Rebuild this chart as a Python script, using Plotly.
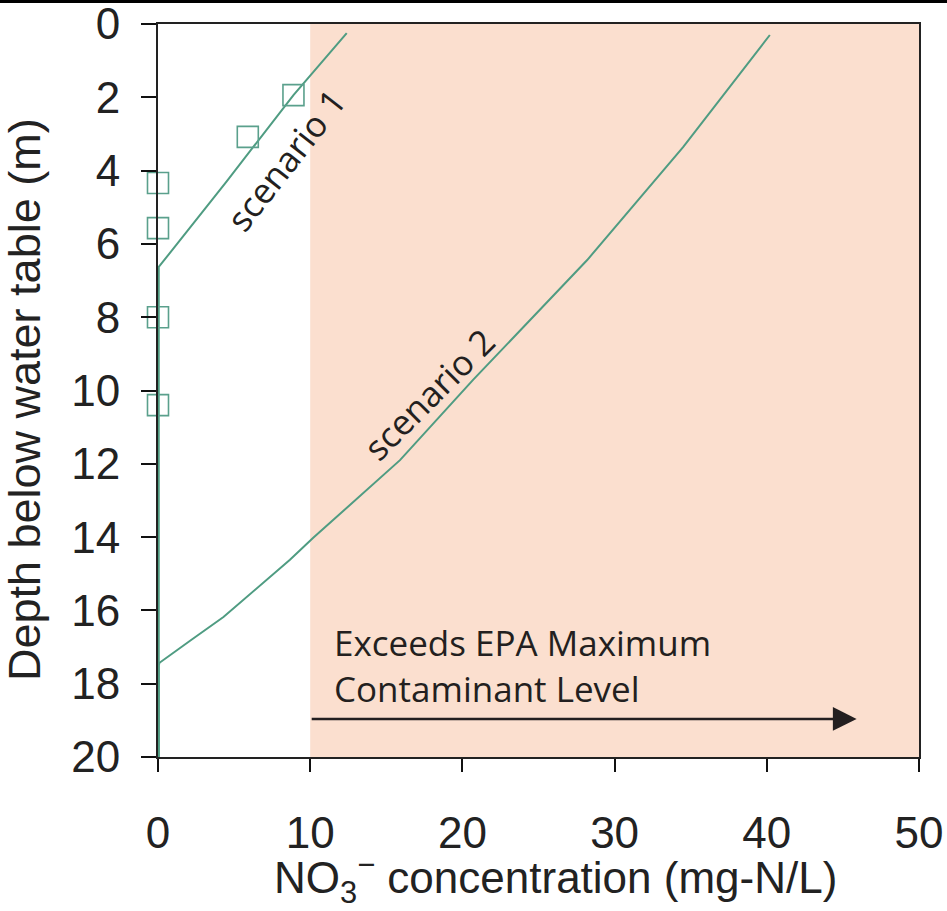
import plotly.graph_objects as go

# Data
s1_conc = [12.4, 8.9, 4.5, 0.05, 0.05]
s1_depth = [0.25, 1.94, 4.3, 6.63, 20.0]

s2_conc = [40.2, 34.5, 28.2, 24.4, 20.7, 15.9, 10.2, 8.67, 4.3, 2.2, 0.1, 0.05, 0.05]
s2_depth = [0.3, 3.36, 6.44, 8.1, 9.71, 11.9, 14.02, 14.62, 16.18, 16.8, 17.43, 17.5, 20.0]

obs_conc = [8.9, 5.9, 0.0, 0.0, 0.0, 0.0]
obs_depth = [1.94, 3.08, 4.34, 5.57, 8.0, 10.4]

mcl = 10  # EPA maximum contaminant level (mg-N/L)
x_ticks = [0, 10, 20, 30, 40, 50]
y_ticks = [0, 2, 4, 6, 8, 10, 12, 14, 16, 18, 20]

line_col = "#4f9c82"
text_col = "#231f20"
tick_font = dict(family="Liberation Sans, Arial, sans-serif", size=44, color="#222")
ann_font = dict(family="Open Sans, sans-serif", size=35, color=text_col)

fig = go.Figure()

# shaded region above the MCL
fig.add_shape(type="rect", xref="x", yref="y", x0=mcl, x1=50, y0=0, y1=20,
              fillcolor="#fbdfcf", line_width=0, layer="below")

fig.add_trace(go.Scatter(x=s2_conc, y=s2_depth, mode="lines",
                         line=dict(color=line_col, width=2), showlegend=False))
fig.add_trace(go.Scatter(x=s1_conc, y=s1_depth, mode="lines",
                         line=dict(color=line_col, width=2), showlegend=False,
                         cliponaxis=False))
fig.add_trace(go.Scatter(x=obs_conc, y=obs_depth, mode="markers",
                         marker=dict(symbol="square-open", size=21,
                                     color="#5aa08c", line=dict(width=1.6)),
                         showlegend=False, cliponaxis=False))

fig.add_annotation(x=8.4, y=3.7, xref="x", yref="y", text="scenario 1",
                   showarrow=False, textangle=-52, font=ann_font)
fig.add_annotation(x=17.75, y=10.1, xref="x", yref="y", text="scenario 2",
                   showarrow=False, textangle=-45, font=ann_font)
fig.add_annotation(x=11.4, y=17.49, xref="x", yref="y",
                   text="Exceeds EPA Maximum<br>Contaminant Level",
                   showarrow=False, xanchor="left", yanchor="middle",
                   align="left", font=ann_font)
fig.add_annotation(x=45.9, y=18.96, ax=mcl, ay=18.96, xref="x", yref="y",
                   axref="x", ayref="y", text="", showarrow=True,
                   arrowhead=2, arrowsize=1.9, arrowwidth=2.5, arrowcolor=text_col)

# axis titles
fig.add_annotation(x=0.5217, y=-0.166, xref="paper", yref="paper",
                   text="NO<sub>3</sub><sup>\u2212</sup> concentration (mg-N/L)",
                   showarrow=False, xanchor="center", yanchor="middle",
                   font=dict(family="Liberation Sans, Arial, sans-serif", size=44,
                             color="#222"))
fig.add_annotation(x=-0.176, y=0.487, xref="paper", yref="paper",
                   text="Depth below water table (m)", textangle=-90,
                   showarrow=False, xanchor="center", yanchor="middle",
                   font=dict(family="Liberation Sans, Arial, sans-serif", size=45,
                             color="#222"))

# top border of the picture
fig.add_shape(type="line", xref="paper", yref="paper", x0=-0.3, x1=1.1,
              y0=1.0307, y1=1.0307, line=dict(color="black", width=3))

fig.update_xaxes(range=[0, 50], tickvals=x_ticks, ticks="outside", ticklen=13,
                 tickwidth=2, tickcolor="#111", showline=True, linecolor="#222",
                 linewidth=2, mirror=True, showgrid=False, zeroline=False,
                 tickfont=tick_font, ticklabelstandoff=23,
                 ticklabeloverflow="allow")
fig.update_yaxes(range=[20, 0], tickvals=y_ticks, ticks="outside", ticklen=15,
                 tickwidth=2, tickcolor="#111", showline=True, linecolor="#222",
                 linewidth=2, mirror=True, showgrid=False, zeroline=False,
                 tickfont=tick_font, ticklabelstandoff=12,
                 ticklabeloverflow="allow")

fig.update_layout(width=947, height=911, autosize=False,
                  margin=dict(l=158, r=28, t=24, b=154, autoexpand=False),
                  plot_bgcolor="white", paper_bgcolor="white")

fig.write_html("out.html")
